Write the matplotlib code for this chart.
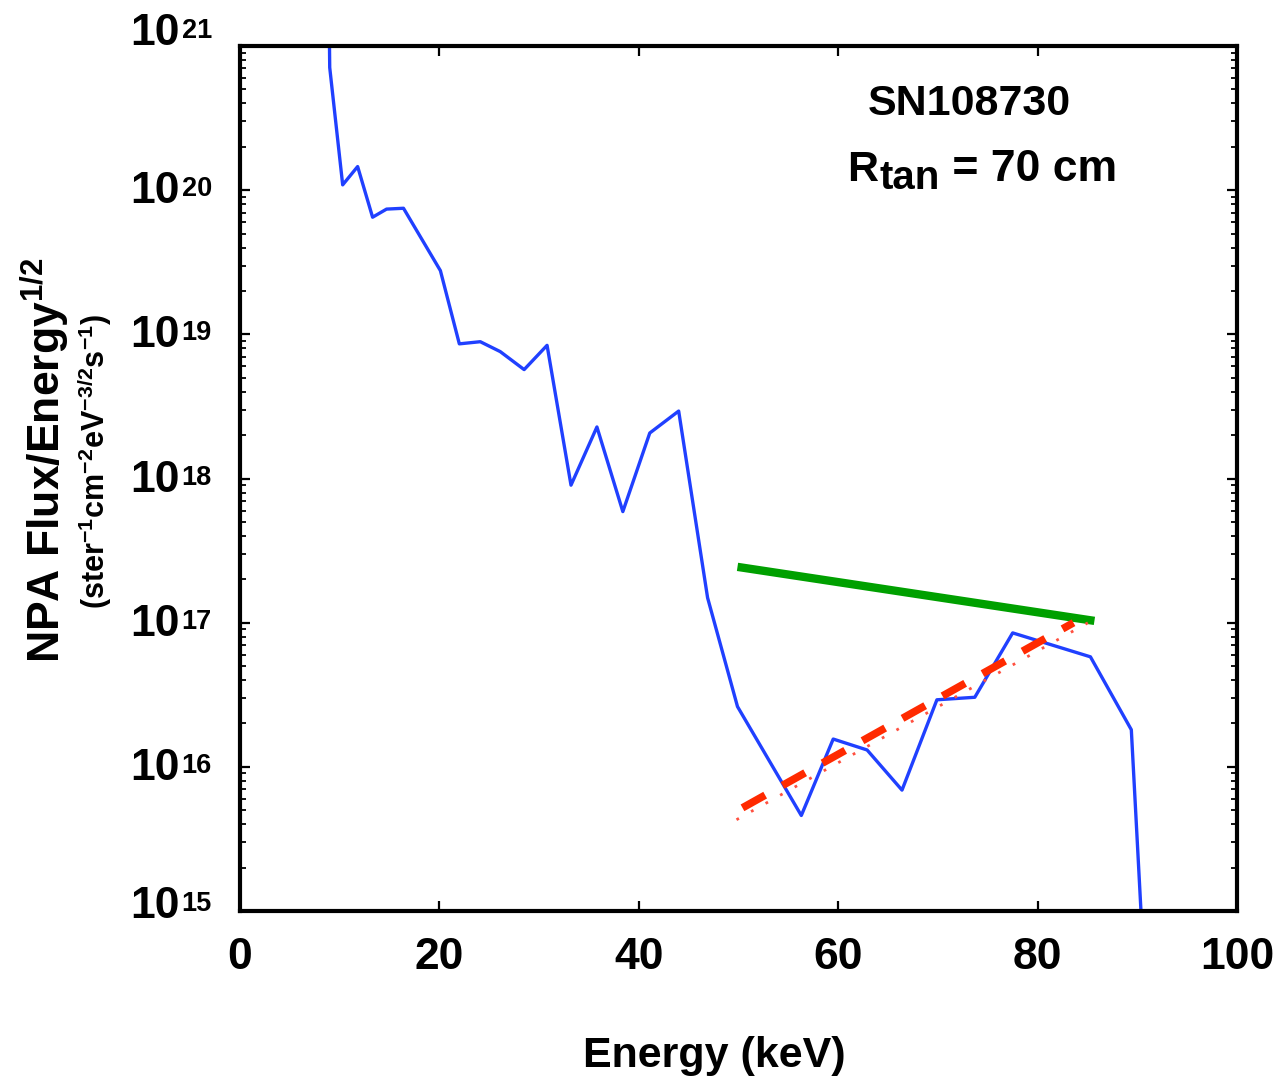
import matplotlib
matplotlib.use('Agg')
import matplotlib.pyplot as plt

plt.rcParams['font.family'] = ['Liberation Sans', 'DejaVu Sans']
plt.rcParams['font.weight'] = 'bold'
plt.rcParams['mathtext.default'] = 'regular'

# measured NPA spectrum (energy in keV, flux/E^1/2)
energy = [8.9, 9.0, 10.3, 11.8, 13.3, 14.7, 16.4, 20.1, 22.0, 24.1, 26.1, 28.5,
          30.8, 33.2, 35.8, 38.4, 41.1, 44.0, 46.9, 49.9, 56.3, 59.5, 62.9,
          66.4, 69.9, 73.7, 77.5, 85.3, 89.4, 90.6]
flux = [3e21, 7.1e20, 1.09e20, 1.46e20, 6.5e19, 7.4e19, 7.5e19, 2.77e19,
        8.6e18, 8.9e18, 7.6e18, 5.7e18, 8.4e18, 9.0e17, 2.28e18, 5.9e17,
        2.07e18, 2.94e18, 1.49e17, 2.62e16, 4.6e15, 1.56e16, 1.31e16,
        6.9e15, 2.92e16, 3.04e16, 8.5e16, 5.8e16, 1.81e16, 5e14]

# straight-line fits
green_E = [49.9, 85.7]
green_flux = [2.44e17, 1.03e17]
red_E = [49.8, 85.6]
red_flux = [4.3e15, 1.05e17]
red_dash_E = [50.4, 83.6]
red_dash_flux = [5.2e15, 1.0e17]

x_ticks = [0, 20, 40, 60, 80, 100]
y_decades = [15, 16, 17, 18, 19, 20, 21]

fig = plt.figure(figsize=(12.82, 10.82), dpi=100)
ax = fig.add_axes([0.1872, 0.158, 0.7777, 0.7994])

ax.plot(energy, flux, color='#2040ff', lw=2.4)
ax.plot(green_E, green_flux, color='#00a000', lw=6, solid_capstyle='butt')
ax.plot(red_E, red_flux, color='#ff5040', lw=2, ls=(0, (1, 5)))
ax.plot(red_dash_E, red_dash_flux, color='#ff2a00', lw=5.5, dashes=(3.4, 2.6),
        dash_capstyle='butt')

ax.set_yscale('log')
ax.set_xlim(0, 100)
ax.set_ylim(1e15, 1e21)

ax.set_xticks(x_ticks)
ax.set_xticklabels([str(t) for t in x_ticks], fontsize=32, fontweight='bold')
ax.tick_params(axis='x', which='minor', bottom=False, top=False)
ax.tick_params(which='both', direction='in', top=True, right=True)
ax.tick_params(which='major', length=7, width=1.6)
ax.tick_params(which='minor', length=4.5, width=1.3)
ax.tick_params(axis='x', pad=19)
ax.tick_params(axis='y', labelleft=False)
for s in ax.spines.values():
    s.set_linewidth(3)

# y tick labels drawn as "10" + raised exponent
ytrans = ax.get_yaxis_transform()
for d in y_decades:
    off = 16 if d == 21 else (8 if d == 15 else 2)
    ax.annotate('10', xy=(-0.0605, 10.0 ** d), xycoords=ytrans,
                xytext=(0, off - 15), textcoords='offset pixels',
                ha='right', va='baseline', fontsize=32, fontweight='bold',
                annotation_clip=False)
    ax.annotate(str(d), xy=(-0.0605, 10.0 ** d), xycoords=ytrans,
                xytext=(2, off - 8), textcoords='offset pixels',
                ha='left', va='baseline', fontsize=19.5, fontweight='bold',
                annotation_clip=False)

fig.text(0.557, 0.024, 'Energy (keV)', ha='center', va='center',
         fontsize=31, fontweight='bold')
fig.text(0.035, 0.575, r'NPA Flux/Energy$^{1/2}$', rotation=90,
         ha='center', va='center', fontsize=32, fontweight='bold')
fig.text(0.074, 0.573, r'(ster$^{-1}$cm$^{-2}$eV$^{-3/2}$s$^{-1}$)',
         rotation=90, ha='center', va='center', fontsize=22, fontweight='bold')

ax.text(0.732, 0.933, 'SN108730', transform=ax.transAxes, ha='center',
        va='center', fontsize=31, fontweight='bold')
r_txt = ax.text(0.609, 0.844, 'R', transform=ax.transAxes, ha='left',
                va='baseline', fontsize=31, fontweight='bold')
sub = ax.annotate('tan', xy=(1, 0.844), xycoords=(r_txt, ax.transAxes),
                  xytext=(1, -8), textcoords='offset pixels', ha='left',
                  va='baseline', fontsize=29, fontweight='bold')
ax.annotate(' = 70 cm', xy=(1, 0.844), xycoords=(sub, ax.transAxes),
            ha='left', va='baseline', fontsize=32, fontweight='bold')

fig.savefig('out.png', dpi=100)
